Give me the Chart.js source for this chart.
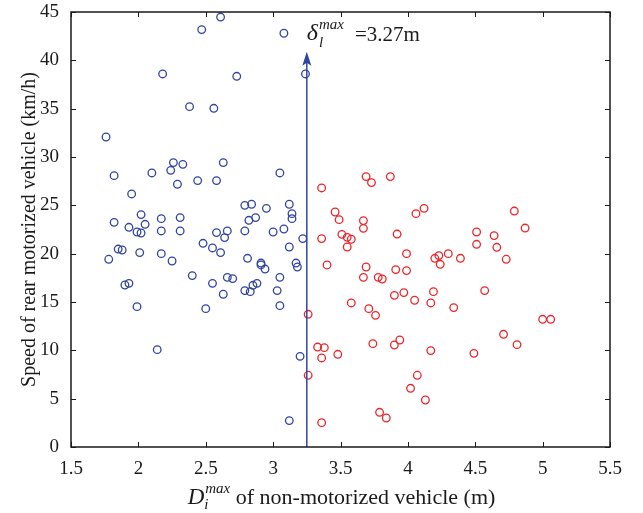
<!DOCTYPE html>
<html><head><meta charset="utf-8">
<script src="https://cdn.jsdelivr.net/npm/chart.js@4"></script>
<style>html,body{margin:0;padding:0;background:#fff}</style>
</head><body>
<canvas id="c" width="643" height="513"></canvas>
<script>
const xTicks = [1.5, 2, 2.5, 3, 3.5, 4, 4.5, 5, 5.5];
const yTicks = [0, 5, 10, 15, 20, 25, 30, 35, 40, 45];

const blueX = [2.61,2.47,3.08,2.18,2.73,3.24,2.38,2.56,1.76,2.26,2.33,2.63,2.24,1.82,2.10,3.05,2.29,2.44,2.58,1.95,2.79,2.84,3.12,2.95,2.02,3.14,3.14,2.87,2.82,1.82,2.31,2.17,2.05,1.93,1.99,2.02,2.17,2.31,2.58,2.66,2.64,2.79,3.00,3.08,3.22,2.48,2.55,2.61,3.12,1.85,1.88,2.01,2.17,1.78,2.25,2.81,2.91,2.91,2.94,3.17,3.18,2.40,2.66,2.70,3.05,1.90,1.93,2.55,2.88,2.85,2.79,2.83,3.03,2.63,1.99,2.50,3.05,2.14,3.20,3.12];
const blueY = [44.48,43.18,42.8,38.59,38.35,38.59,35.21,35.04,32.07,29.42,29.24,29.42,28.62,28.07,28.35,28.35,27.18,27.56,27.56,26.18,25.0,25.11,25.11,24.69,24.04,24.14,23.62,23.73,23.45,23.24,23.73,23.62,23.04,22.73,22.24,22.14,22.35,22.35,22.18,22.35,21.66,22.35,22.24,22.55,21.56,21.07,20.59,20.11,20.69,20.48,20.38,20.11,20.0,19.42,19.24,19.52,19.03,18.83,18.41,19.03,18.62,17.73,17.55,17.42,17.55,16.76,16.93,16.93,16.93,16.73,16.18,16.07,16.18,15.8,14.52,14.31,14.62,10.07,9.38,2.73];

const redX = [3.26,3.33,3.38,3.36,3.48,3.26,3.36,3.36,3.69,3.73,3.87,3.46,3.49,3.67,3.67,4.06,4.12,4.79,4.87,3.36,3.51,3.55,3.58,3.55,3.92,4.51,4.64,4.51,4.66,3.99,4.20,4.23,4.24,4.30,4.39,4.73,3.40,3.69,3.67,3.91,3.99,3.78,3.81,4.57,3.90,3.97,4.19,4.05,4.17,3.58,3.71,3.76,4.34,5.00,5.06,4.71,4.81,3.74,3.90,3.94,4.17,4.49,4.07,4.02,4.13,3.79,3.84];
const redY = [13.73,10.34,10.28,9.21,9.59,7.42,2.52,26.8,27.97,27.35,27.97,24.31,23.52,23.42,22.62,24.14,24.69,24.41,22.65,21.56,22.0,21.69,21.49,20.69,22.03,22.24,21.87,20.97,20.66,20.0,19.52,19.8,18.9,20.0,19.52,19.42,18.83,18.62,17.55,18.35,18.25,17.55,17.38,16.18,15.69,15.97,16.07,15.18,14.9,14.9,14.31,13.62,14.42,13.21,13.21,11.66,10.59,10.69,10.55,11.07,9.97,9.69,7.42,6.07,4.86,3.59,3.0];

const thresholdX = 3.25;      // drawn position of the vertical line
const thresholdLabel = '=3.27m';
const arrowTopY = 40.9;
const labelY = 42.1;

const SERIF = '"Liberation Serif", "DejaVu Serif", serif';
const BLUE = 'rgb(48,68,160)';
const RED = 'rgb(236,36,40)';

function pts(xs, ys){ return xs.map((x,i)=>({x, y: ys[i]})); }

const framePlugin = {
  id: 'frame',
  afterDatasetsDraw(chart){
    const {ctx, chartArea: a, scales: {x, y}} = chart;
    ctx.save();
    // threshold arrow
    const lx = x.getPixelForValue(thresholdX);
    const ty = y.getPixelForValue(arrowTopY);
    ctx.strokeStyle = BLUE; ctx.fillStyle = BLUE; ctx.lineWidth = 1.5;
    ctx.beginPath(); ctx.moveTo(lx, a.bottom); ctx.lineTo(lx, ty + 8); ctx.stroke();
    ctx.beginPath();
    ctx.moveTo(lx, ty); ctx.lineTo(lx + 4.5, ty + 14); ctx.lineTo(lx, ty + 11); ctx.lineTo(lx - 4.5, ty + 14);
    ctx.closePath(); ctx.fill();

    // frame
    ctx.strokeStyle = '#1a1a1a'; ctx.lineWidth = 1.5;
    ctx.strokeRect(a.left, a.top, a.right - a.left, a.bottom - a.top);
    // inward ticks
    ctx.lineWidth = 1;
    ctx.beginPath();
    xTicks.forEach(v => {
      const px = Math.round(x.getPixelForValue(v)) + 0.5;
      ctx.moveTo(px, a.bottom); ctx.lineTo(px, a.bottom - 5);
      ctx.moveTo(px, a.top); ctx.lineTo(px, a.top + 5);
    });
    yTicks.forEach(v => {
      const py = Math.round(y.getPixelForValue(v)) + 0.5;
      ctx.moveTo(a.left, py); ctx.lineTo(a.left + 5, py);
      ctx.moveTo(a.right, py); ctx.lineTo(a.right - 5, py);
    });
    ctx.stroke();

    // annotation
    ctx.fillStyle = '#1a1a1a';
    ctx.textBaseline = 'alphabetic'; ctx.textAlign = 'left';
    let ax = lx;
    const ab = y.getPixelForValue(labelY);
    ctx.font = 'italic 24px ' + SERIF;
    ctx.fillText('δ', ax, ab);
    ax += ctx.measureText('δ').width + 1;
    ctx.font = 'italic 15px ' + SERIF;
    ctx.fillText('l', ax, ab + 7);
    ctx.fillText('max', ax, ab - 11);
    ax += ctx.measureText('max').width + 11;
    ctx.font = '21px ' + SERIF;
    ctx.fillText(thresholdLabel, ax, ab + 1);

    // x axis title
    const fMain = '22px ' + SERIF, fD = 'italic 23px ' + SERIF, fS = 'italic 15px ' + SERIF;
    const rest = ' of non-motorized vehicle (m)';
    ctx.font = fD; const wD = ctx.measureText('D').width;
    ctx.font = fS; const wM = ctx.measureText('max').width;
    ctx.font = fMain; const wR = ctx.measureText(rest).width;
    const total = wD + 1 + wM + wR;
    let tx = (a.left + a.right) / 2 + 1 - total / 2;
    const tb = 504;
    ctx.font = fD; ctx.fillText('D', tx, tb);
    tx += wD + 1;
    ctx.font = fS; ctx.fillText('max', tx, tb - 11);
    ctx.fillText('i', tx - 1, tb + 5);
    tx += wM;
    ctx.font = fMain; ctx.fillText(rest, tx, tb);
    ctx.restore();
  }
};

new Chart(document.getElementById('c'), {
  type: 'scatter',
  data: {
    datasets: [
      {label: 'blue', data: pts(blueX, blueY), borderColor: BLUE, backgroundColor: 'rgba(0,0,0,0)', pointRadius: 3.8, pointBorderWidth: 1.3, pointHoverRadius: 3.8},
      {label: 'red', data: pts(redX, redY), borderColor: RED, backgroundColor: 'rgba(0,0,0,0)', pointRadius: 3.8, pointBorderWidth: 1.3, pointHoverRadius: 3.8}
    ]
  },
  options: {
    responsive: false, animation: false, devicePixelRatio: 1,
    layout: {padding: {top: 12, right: 33, left: 0, bottom: 0}},
    plugins: {legend: {display: false}, tooltip: {enabled: false}},
    scales: {
      x: {
        type: 'linear', min: 1.5, max: 5.5,
        afterBuildTicks: s => { s.ticks = xTicks.map(v => ({value: v})); },
        ticks: {callback: v => String(v), font: {family: SERIF, size: 19}, color: '#1a1a1a', padding: 3, maxRotation: 0},
        grid: {display: false}, border: {display: false},
        afterFit: s => { s.height = 66; s.paddingLeft = 0; s.paddingRight = 0; }
      },
      y: {
        type: 'linear', min: 0, max: 45,
        afterBuildTicks: s => { s.ticks = yTicks.map(v => ({value: v})); },
        ticks: {callback: v => String(v), font: {family: SERIF, size: 19}, color: '#1a1a1a', padding: 4},
        grid: {display: false}, border: {display: false},
        title: {display: true, text: 'Speed of rear motorized vehicle (km/h)', font: {family: SERIF, size: 20}, color: '#1a1a1a', padding: {top: 18, bottom: 0}},
        afterFit: s => { s.width = 71; s.paddingTop = 0; s.paddingBottom = 0; }
      }
    }
  },
  plugins: [framePlugin]
});
</script>
</body></html>
